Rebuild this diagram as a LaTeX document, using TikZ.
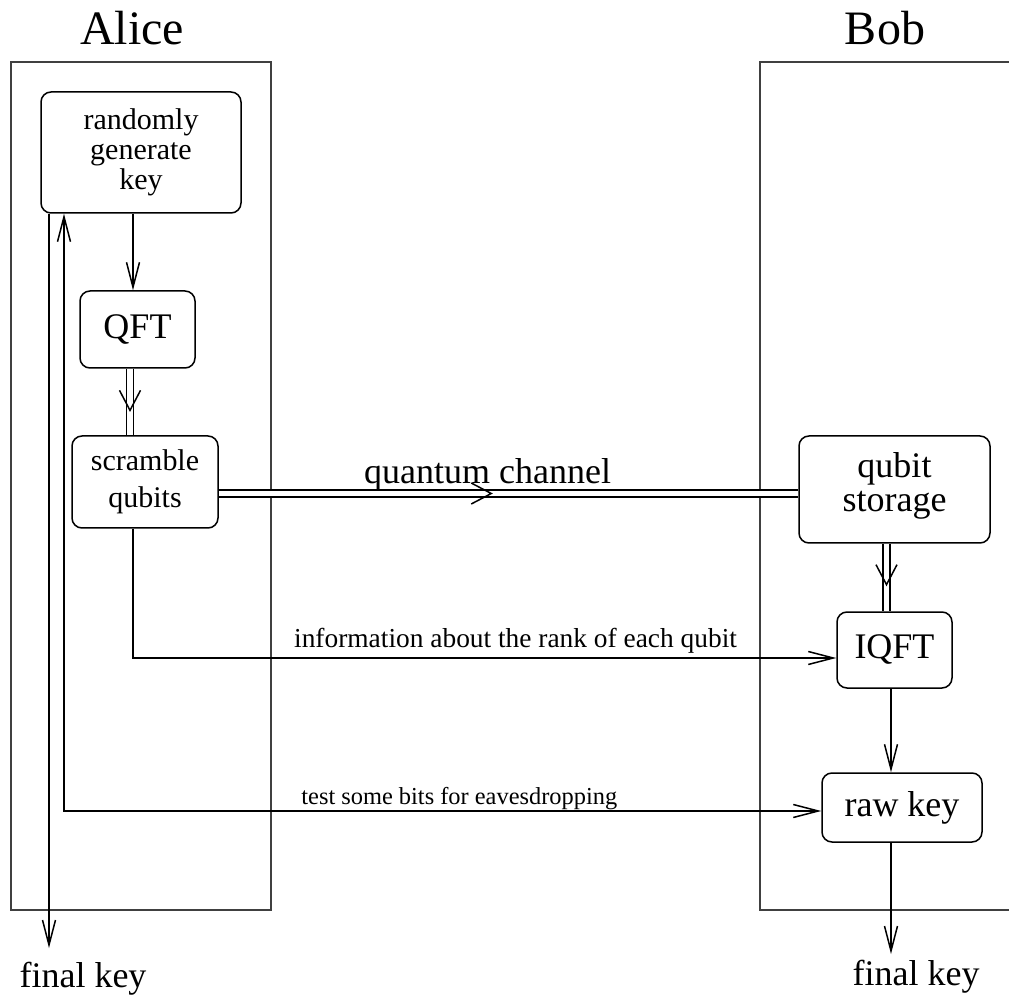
\documentclass[tikz,border=0pt]{standalone}
\usepackage{fontspec}
\setmainfont{Liberation Serif}
\usetikzlibrary{arrows.meta,decorations.markings}
\tikzset{
  box/.style={draw,rounded corners=5pt,line width=0.75pt,align=center,inner sep=0pt},
  frame/.style={draw=black!75,line width=0.6pt},
  link/.style={line width=0.75pt,->,>={Straight Barb[length=12.5pt,width=6.5pt]}},
  dbl/.style={double,double distance=2.8pt,line width=0.75pt},
  midarrow/.style={decoration={markings,mark=at position #1 with {\arrow[line width=0.75pt]{Straight Barb[length=10pt,width=10.5pt]}}},decorate},
  big/.style={font=\fontsize{18}{17}\selectfont},
  med/.style={font=\fontsize{15}{15}\selectfont},
  lbl/.style={anchor=base},
}
\begin{document}
\begin{tikzpicture}[x=0.5pt,y=-0.5pt]
  \useasboundingbox (0,0) rectangle (1009,995);
  % the two parties
  \draw[frame] (11,62) rectangle (271,910);
  \draw[frame] (1009,62) -- (760,62) -- (760,910) -- (1009,910);
  \node[anchor=base,font=\fontsize{24}{24}\selectfont] (alice) at (132,45) {Alice};
  \node[anchor=base,font=\fontsize{24}{24}\selectfont] (bob) at (885,45) {Bob};
  % Alice side
  \node[box,med,minimum width=100pt,minimum height=60.5pt] (genkey) at (141,152.5) {randomly\\generate\\key};
  \node[box,big,minimum width=57.5pt,minimum height=38.5pt] (qft) at (137.5,329.5) {QFT};
  \node[box,font=\fontsize{15}{18.5}\selectfont,minimum width=73pt,minimum height=46pt] (scramble) at (145,482) {scramble\\qubits};
  % Bob side
  \node[box,big,minimum width=95.5pt,minimum height=53.5pt,text depth=7pt] (storage) at (894.5,489.5) {qubit\\storage};
  \node[box,big,minimum width=57.5pt,minimum height=38pt] (iqft) at (894.5,650) {IQFT};
  \node[box,big,minimum width=80pt,minimum height=34.5pt] (rawkey) at (902,807.5) {raw key};
  % outputs
  \coordinate (outA) at (49,948);
  \coordinate (outB) at (891,954);
  \coordinate (testc) at (64,811);
  \node[big,anchor=base] (finalA) at (83,987) {final key};
  \node[big,anchor=base] (finalB) at (916,985) {final key};

  \draw[link] ([xshift=-2.25pt]qft.north |- genkey.south) -- ([xshift=-2.25pt]qft.north);
  \draw[dbl] ([xshift=-3.75pt]qft.south) -- ([xshift=-3.75pt]qft.south |- scramble.north);
  \path[midarrow=0.65] ([xshift=-3.75pt]qft.south) -- ([xshift=-3.75pt]qft.south |- scramble.north);
  \draw[dbl] ([yshift=-5.75pt]scramble.east) -- ([yshift=-5.75pt]scramble.east -| storage.west)
    node[big,pos=0.464,anchor=base,yshift=5pt] {quantum channel};
  \path[midarrow=0.473] ([yshift=-5.75pt]scramble.east) -- ([yshift=-5.75pt]scramble.east -| storage.west);
  \draw[dbl] ([xshift=-4pt]storage.south) -- ([xshift=-4pt]storage.south |- iqft.north);
  \path[midarrow=0.63] ([xshift=-4pt]storage.south) -- ([xshift=-4pt]storage.south |- iqft.north);
  \draw[link] ([xshift=-6pt]scramble.south) |- ([yshift=-4pt]iqft.west)
    node[lbl,font=\fontsize{13.7}{14}\selectfont,pos=0.772,yshift=5.5pt] {information about the rank of each qubit};
  \draw[link] ([xshift=-1.75pt]iqft.south) -- ([xshift=-1.75pt]iqft.south |- rawkey.north);
  \draw[link,<->] (genkey.south -| testc) |- (rawkey.west |- testc)
    node[lbl,font=\fontsize{12.2}{13}\selectfont,pos=0.761,yshift=3pt] {test some bits for eavesdropping};
  \draw[link] (rawkey.south -| outB) -- (outB);
  \draw[link] (genkey.south -| outA) -- (outA);
\end{tikzpicture}
\end{document}
